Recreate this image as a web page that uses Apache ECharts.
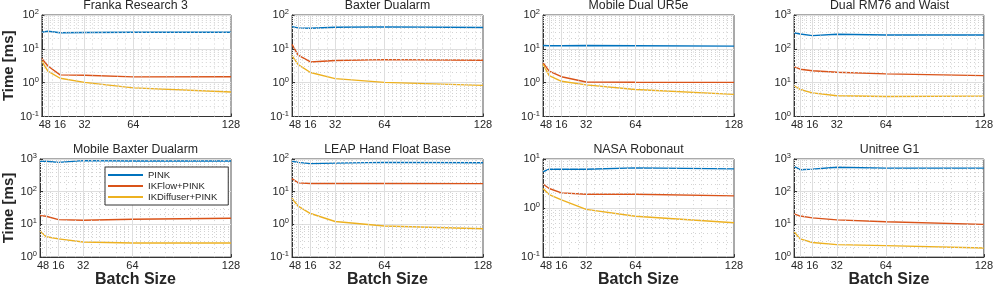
<!DOCTYPE html>
<html>
<head>
<meta charset="utf-8">
<script src="https://cdn.jsdelivr.net/npm/echarts@6/dist/echarts.min.js"></script>
<style>
html,body{margin:0;padding:0;background:#fff;}
#chart{width:996px;height:289px;}
</style>
</head>
<body>
<div id="chart"></div>
<script>
// ---- data ----
const batchSizes = [4, 8, 16, 32, 64, 128];
const xTickLabels = [4, 8, 16, 32, 64, 128];
const seriesNames = ['PINK', 'IKFlow+PINK', 'IKDiffuser+PINK'];
const panelTitles = ['Franka Research 3', 'Baxter Dualarm', 'Mobile Dual UR5e', 'Dual RM76 and Waist',
                     'Mobile Baxter Dualarm', 'LEAP Hand Float Base', 'NASA Robonaut', 'Unitree G1'];
const yMins = [0.1, 0.1, 0.1, 1, 1, 0.1, 0.1, 1];
const yMaxs = [100, 100, 100, 1000, 1000, 100, 10, 1000];

const frankaPINK = [31, 33, 30, 30.5, 31, 31];
const frankaIKFlow = [5.2, 3.1, 1.7, 1.66, 1.48, 1.5];
const frankaIKDiffuser = [4.3, 2.2, 1.35, 1.02, 0.7, 0.53];
const baxterPINK = [45.5, 41.5, 40.5, 43.5, 44.5, 42.5];
const baxterIKFlow = [13.5, 6.5, 4.1, 4.5, 4.8, 4.6];
const baxterIKDiffuser = [6.3, 3.4, 2.0, 1.32, 1.02, 0.83];
const ur5ePINK = [12.6, 12.3, 12.3, 12.5, 12.3, 12.0];
const ur5eIKFlow = [3.9, 2.2, 1.5, 1.05, 1.03, 1.02];
const ur5eIKDiffuser = [3.5, 1.62, 1.1, 0.86, 0.63, 0.45];
const rm76PINK = [300, 275, 245, 269, 257, 257];
const rm76IKFlow = [30, 25, 22.4, 20.4, 18.2, 16.2];
const rm76IKDiffuser = [8.1, 6.3, 5.0, 4.1, 3.9, 4.0];
const mobileBaxterPINK = [850, 850, 790, 890, 870, 870];
const mobileBaxterIKFlow = [18.6, 17.8, 14, 13.4, 14.4, 15.4];
const mobileBaxterIKDiffuser = [6.3, 4.2, 3.6, 2.9, 2.7, 2.7];
const leapPINK = [85, 79, 72, 75, 79, 77];
const leapIKFlow = [25, 18.6, 17.8, 17.8, 17.8, 17.6];
const leapIKDiffuser = [6.3, 3.6, 2.15, 1.23, 0.89, 0.74];
const robonautPINK = [5.5, 6.2, 6.2, 6.2, 6.6, 6.3];
const robonautIKFlow = [3.1, 2.5, 2.04, 1.91, 1.91, 1.77];
const robonautIKDiffuser = [2.5, 1.88, 1.47, 0.94, 0.68, 0.5];
const unitreePINK = [590, 470, 490, 560, 525, 525];
const unitreeIKFlow = [21, 18, 15.8, 13.8, 12, 10];
const unitreeIKDiffuser = [6.0, 3.6, 2.8, 2.4, 2.25, 1.9];

const panelData = [
  [frankaPINK, frankaIKFlow, frankaIKDiffuser],
  [baxterPINK, baxterIKFlow, baxterIKDiffuser],
  [ur5ePINK, ur5eIKFlow, ur5eIKDiffuser],
  [rm76PINK, rm76IKFlow, rm76IKDiffuser],
  [mobileBaxterPINK, mobileBaxterIKFlow, mobileBaxterIKDiffuser],
  [leapPINK, leapIKFlow, leapIKDiffuser],
  [robonautPINK, robonautIKFlow, robonautIKDiffuser],
  [unitreePINK, unitreeIKFlow, unitreeIKDiffuser]
];

// ---- layout / style ----
const colors = ['#0072BD', '#D95319', '#EDB120'];
const colLeft = [40, 292, 543, 794];
const plotW = 191;
const rowTop = [15, 159];
const plotH = 101.5;
const FONT = '"Liberation Sans", Arial, Helvetica, sans-serif';
const TXT = '#262626';

const grids = [], xAxes = [], yAxes = [], series = [], titles = [];

for (let i = 0; i < 8; i++) {
  const r = Math.floor(i / 4), c = i % 4;
  grids.push({left: colLeft[c], top: rowTop[r], width: plotW, height: plotH,
              show: true, borderColor: '#555', borderWidth: 1, backgroundColor: '#fff'});
  titles.push({text: panelTitles[i], left: colLeft[c] + plotW / 2, top: rowTop[r] - 15, padding: 0,
               textAlign: 'center',
               textStyle: {fontFamily: FONT, fontSize: 12.3, fontWeight: 'normal', color: TXT}});
  xAxes.push({
    type: 'value', gridIndex: i, min: 4, max: 128,
    name: r === 1 ? 'Batch Size' : '', nameLocation: 'middle', nameGap: 12,
    nameTextStyle: {fontFamily: FONT, fontSize: 16, fontWeight: 'bold', color: TXT, verticalAlign: 'top'},
    axisLine: {show: true, onZero: false, lineStyle: {color: '#333', width: 1}},
    axisTick: {show: true, inside: true, length: 3, customValues: xTickLabels, lineStyle: {color: '#333'}},
    axisLabel: {customValues: xTickLabels, fontFamily: FONT, fontSize: 11, color: TXT, margin: 3,
                hideOverlap: false, showMinLabel: true, showMaxLabel: true},
    splitLine: {show: false}
  });
  yAxes.push({
    type: 'log', logBase: 10, gridIndex: i, min: yMins[i], max: yMaxs[i],
    name: c === 0 ? 'Time [ms]' : '', nameLocation: 'middle', nameGap: 24,
    nameTextStyle: {fontFamily: FONT, fontSize: 15, fontWeight: 'bold', color: TXT},
    axisLine: {show: true, lineStyle: {color: '#333', width: 1}},
    axisTick: {show: true, inside: true, length: 3, lineStyle: {color: '#333'}},
    axisLabel: {
      margin: 3, fontFamily: FONT, fontSize: 11, color: TXT,
      formatter: function (v) { return '10{s|' + Math.round(Math.log10(v)) + '}'; },
      rich: {s: {fontFamily: FONT, fontSize: 7.5, color: TXT, verticalAlign: 'top', padding: [0, 0, 6, 0]}}
    },
    splitLine: {show: true, lineStyle: {color: '#dedede', width: 1}}
  });

  // grid lines (major verticals + minor dotted)
  const minorY = [];
  const e0 = Math.round(Math.log10(yMins[i])), e1 = Math.round(Math.log10(yMaxs[i]));
  for (let e = e0; e < e1; e++) for (let k = 2; k <= 9; k++) minorY.push(k * Math.pow(10, e));
  const minorX = [];
  for (let k = 1; k <= 23; k++) { const v = k * 16 / 3; if (v > 4 && k % 3 !== 0) minorX.push(v); }
  const majorX = [8, 16, 32, 64];
  const ml = [];
  const minorStyle = {type: [1, 3], color: '#d2d2d2', width: 1};
  minorY.forEach(v => ml.push({yAxis: v, lineStyle: minorStyle}));
  minorX.forEach(v => ml.push({xAxis: v, lineStyle: minorStyle}));
  majorX.forEach(v => ml.push({xAxis: v, lineStyle: {type: 'solid', color: '#dedede', width: 1}}));
  series.push({
    type: 'line', name: 'gridlines', xAxisIndex: i, yAxisIndex: i, data: [], z: 1, silent: true,
    markLine: {silent: true, symbol: 'none', label: {show: false}, animation: false, data: ml}
  });

  for (let s = 0; s < 3; s++) {
    series.push({
      type: 'line', name: seriesNames[s], xAxisIndex: i, yAxisIndex: i, z: 3,
      data: batchSizes.map((b, j) => [b, panelData[i][s][j]]),
      showSymbol: false, symbol: 'none', animation: false,
      lineStyle: {color: colors[s], width: 1.4}, itemStyle: {color: colors[s]}
    });
  }
}

const chart = echarts.init(document.getElementById('chart'), null, {renderer: 'canvas'});
chart.setOption({
  animation: false,
  backgroundColor: '#fff',
  title: titles,
  grid: grids,
  xAxis: xAxes,
  yAxis: yAxes,
  legend: {
    data: seriesNames.map((n, k) => ({name: n, icon: 'rect', itemStyle: {color: colors[k]}})),
    orient: 'vertical', left: 105, top: 167,
    itemWidth: 35, itemHeight: 2, itemGap: 1,
    padding: [3, 11, 3, 3],
    backgroundColor: '#fff', borderColor: '#333', borderWidth: 1,
    textStyle: {fontFamily: FONT, fontSize: 9.5, color: TXT, lineHeight: 10},
    selectedMode: false, z: 10
  },
  series: series
});
</script>
</body>
</html>
